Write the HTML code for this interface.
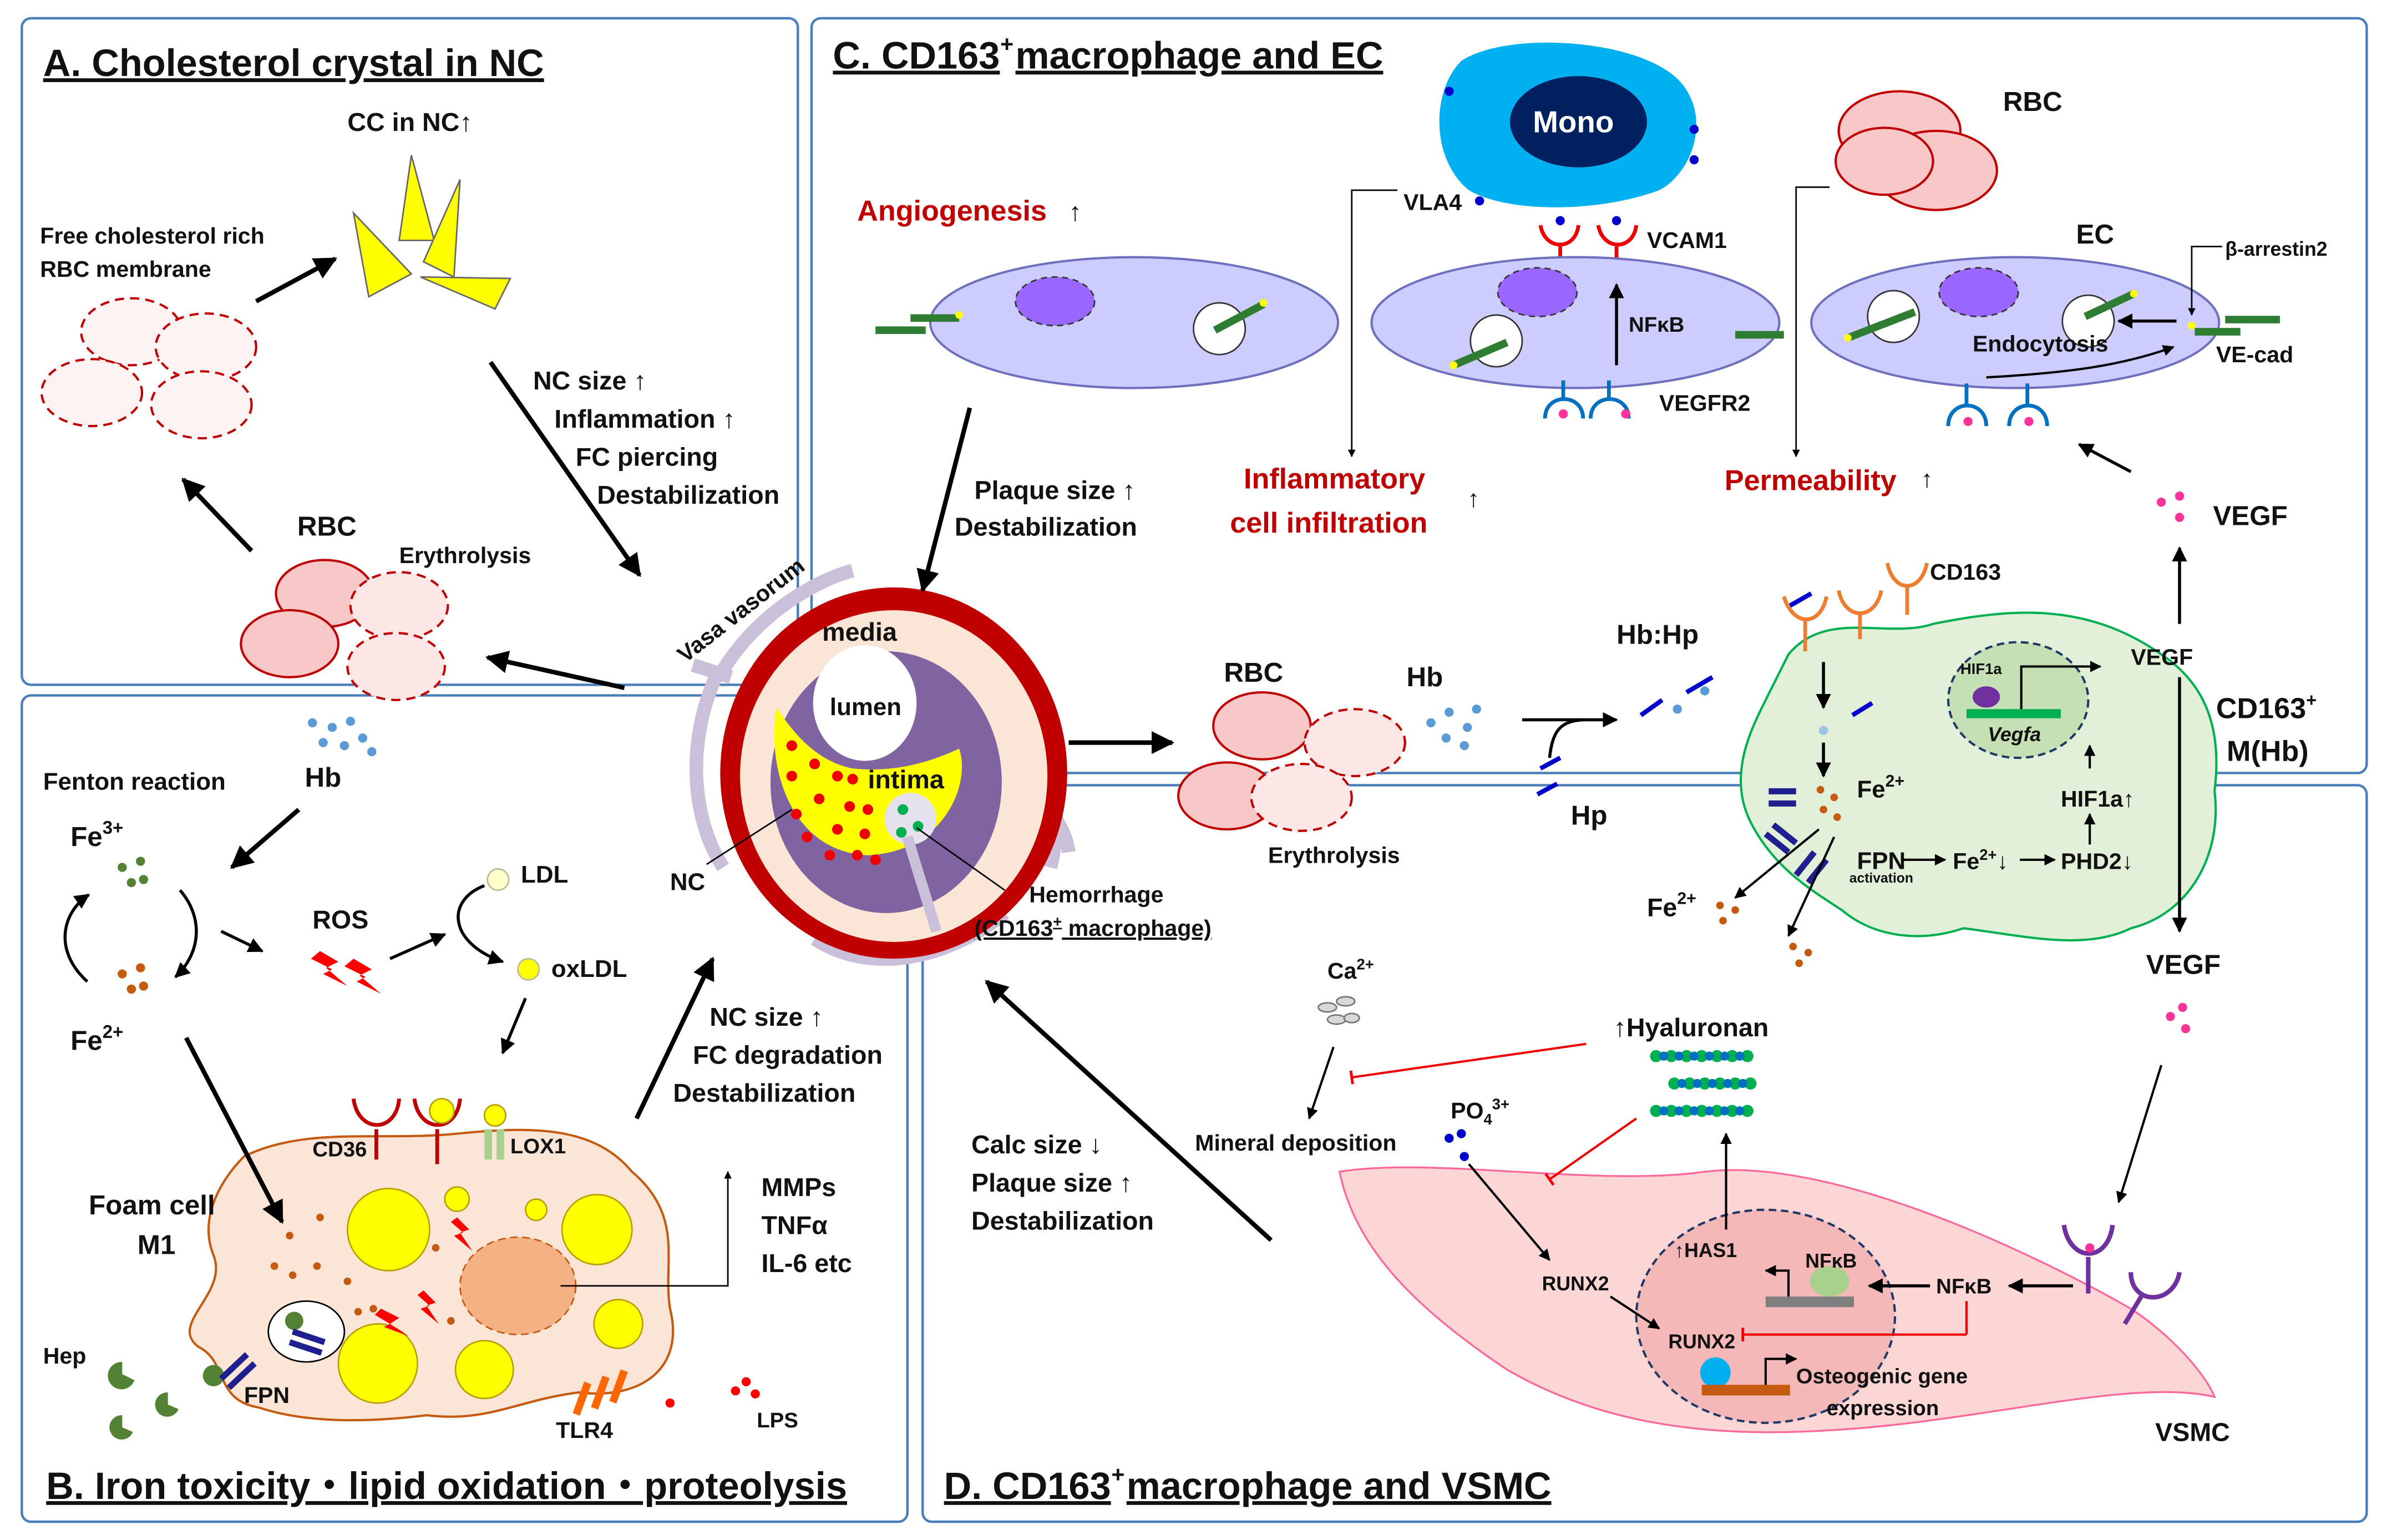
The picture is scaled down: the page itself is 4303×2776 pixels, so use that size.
<!DOCTYPE html>
<html><head><meta charset="utf-8"><style>
html,body{margin:0;padding:0;background:#fff}
svg{display:block}
text{font-family:"Liberation Sans",sans-serif;font-weight:bold;fill:#111}
</style></head><body>
<svg width="4303" height="2776" viewBox="0 0 1568 1012" xmlns="http://www.w3.org/2000/svg">
<defs>
<marker id="ar" viewBox="0 0 10 10" refX="9" refY="5" markerWidth="5" markerHeight="5" orient="auto"><path d="M0,0L10,5L0,10z" fill="#000"/></marker>
<marker id="tb" viewBox="0 0 10 10" refX="5" refY="5" markerWidth="6" markerHeight="6" orient="auto"><path d="M5,0L5,10" stroke="#e00" stroke-width="2"/></marker>
</defs>
<g fill="none" stroke="#4a7ebb" stroke-width="1.6">
<rect x="14" y="12" width="510" height="438" rx="6"/>
<rect x="14" y="457" width="582" height="543" rx="6"/>
<rect x="533" y="12" width="1022" height="496" rx="6"/>
<rect x="606" y="516" width="949" height="484" rx="6"/>
</g>
<g font-size="25">
<text x="28" y="50" text-decoration="underline">A. Cholesterol crystal in NC</text>
<text x="547" y="45" text-decoration="underline">C. CD163</text><text x="657" y="34" font-size="15">+</text><text x="667" y="45" text-decoration="underline"> macrophage and EC</text>
<text x="30" y="985" text-decoration="underline">B. Iron toxicity・lipid oxidation・proteolysis</text>
<text x="620" y="985" text-decoration="underline">D. CD163</text><text x="730" y="974" font-size="15">+</text><text x="740" y="985" text-decoration="underline"> macrophage and VSMC</text>
</g>
<!-- Panel A -->
<text x="228" y="86" font-size="17">CC in NC↑</text>
<g fill="#ffff00" stroke="#666" stroke-width="1">
<polygon points="270,102 262,158 285,158"/>
<polygon points="302,118 278,172 298,182"/>
<polygon points="232,140 242,195 270,180"/>
<polygon points="276,182 335,183 325,203"/>
</g>
<text x="26" y="160" font-size="15">Free cholesterol rich</text>
<text x="26" y="182" font-size="15">RBC membrane</text>
<line x1="168" y1="198" x2="220" y2="170" stroke="#000" stroke-width="3" marker-end="url(#ar)"/>
<g fill="#fdf3f3" stroke="#c00000" stroke-width="1.5" stroke-dasharray="6,4">
<ellipse cx="86" cy="218" rx="33" ry="22"/><ellipse cx="135" cy="228" rx="33" ry="22"/>
<ellipse cx="60" cy="258" rx="33" ry="22"/><ellipse cx="132" cy="266" rx="33" ry="22"/>
</g>
<line x1="322" y1="238" x2="420" y2="378" stroke="#000" stroke-width="3" marker-end="url(#ar)"/>
<g font-size="17"><text x="350" y="256">NC size ↑</text><text x="364" y="281">Inflammation ↑</text><text x="378" y="306">FC piercing</text><text x="392" y="331">Destabilization</text></g>
<line x1="165" y1="362" x2="120" y2="315" stroke="#000" stroke-width="3" marker-end="url(#ar)"/>
<text x="195" y="352" font-size="18">RBC</text>
<text x="262" y="370" font-size="15">Erythrolysis</text>
<ellipse cx="213" cy="390" rx="32" ry="22" fill="#f8c8c8" stroke="#c00000" stroke-width="1.5"/>
<ellipse cx="262" cy="398" rx="32" ry="22" fill="#fde6e6" stroke="#c00000" stroke-width="1.5" stroke-dasharray="6,4"/>
<ellipse cx="190" cy="423" rx="32" ry="22" fill="#f8c8c8" stroke="#c00000" stroke-width="1.5"/>
<ellipse cx="260" cy="438" rx="32" ry="22" fill="#fde6e6" stroke="#c00000" stroke-width="1.5" stroke-dasharray="6,4"/>
<line x1="410" y1="452" x2="320" y2="432" stroke="#000" stroke-width="3" marker-end="url(#ar)"/>
<!-- Panel B -->
<g fill="#5b9bd5"><circle cx="205" cy="475" r="3"/><circle cx="218" cy="478" r="3"/><circle cx="230" cy="474" r="3"/><circle cx="212" cy="488" r="3"/><circle cx="226" cy="490" r="3"/><circle cx="238" cy="485" r="3"/><circle cx="244" cy="494" r="3"/></g>
<text x="200" y="517" font-size="18">Hb</text>
<text x="28" y="519" font-size="16">Fenton reaction</text>
<line x1="196" y1="532" x2="152" y2="570" stroke="#000" stroke-width="3" marker-end="url(#ar)"/>
<text x="46" y="556" font-size="18">Fe<tspan font-size="12" dy="-8">3+</tspan></text>
<g fill="#548235"><circle cx="80" cy="570" r="3"/><circle cx="92" cy="566" r="3"/><circle cx="86" cy="580" r="3"/><circle cx="94" cy="578" r="3"/></g>
<path d="M57,645 C35,625 40,600 58,588" fill="none" stroke="#000" stroke-width="2" marker-end="url(#ar)"/>
<path d="M118,585 C135,605 130,628 115,642" fill="none" stroke="#000" stroke-width="2" marker-end="url(#ar)"/>
<g fill="#c55a11"><circle cx="80" cy="640" r="3"/><circle cx="92" cy="636" r="3"/><circle cx="86" cy="650" r="3"/><circle cx="94" cy="648" r="3"/></g>
<text x="46" y="690" font-size="18">Fe<tspan font-size="12" dy="-8">2+</tspan></text>
<line x1="145" y1="612" x2="172" y2="625" stroke="#000" stroke-width="2" marker-end="url(#ar)"/>
<text x="205" y="610" font-size="17">ROS</text>
<g fill="#ff0000"><polygon points="210,625 222,632 214,636 228,648 212,640 218,637 204,630"/><polygon points="232,630 244,637 236,641 250,653 234,645 240,642 226,635"/></g>
<line x1="256" y1="630" x2="292" y2="614" stroke="#000" stroke-width="2" marker-end="url(#ar)"/>
<circle cx="327" cy="578" r="7" fill="#ffffcc" stroke="#bb9" stroke-width="1"/>
<text x="342" y="580" font-size="16">LDL</text>
<path d="M318,582 C292,592 295,620 330,632" fill="none" stroke="#000" stroke-width="2" marker-end="url(#ar)"/>
<circle cx="347" cy="637" r="7" fill="#ffff00" stroke="#bb9" stroke-width="1"/>
<text x="362" y="642" font-size="16">oxLDL</text>
<line x1="345" y1="656" x2="330" y2="692" stroke="#000" stroke-width="2" marker-end="url(#ar)"/>
<path d="M160,760 C200,740 250,750 300,745 C350,740 390,740 415,770 C450,800 435,830 440,860 C450,900 420,920 380,915 C340,920 320,935 280,930 C240,935 200,935 170,925 C140,920 150,895 130,885 C110,870 150,850 140,825 C130,800 145,775 160,760Z" fill="#fbe5d6" stroke="#c55a11" stroke-width="1.5"/>
<line x1="122" y1="682" x2="185" y2="803" stroke="#000" stroke-width="3" marker-end="url(#ar)"/>
<text x="58" y="798" font-size="18">Foam cell</text>
<text x="90" y="824" font-size="18">M1</text>
<g fill="#ffff00" stroke="#b8a000" stroke-width="1"><circle cx="255" cy="808" r="27"/><circle cx="392" cy="808" r="23"/><circle cx="248" cy="896" r="26"/><circle cx="318" cy="900" r="19"/><circle cx="406" cy="870" r="16"/><circle cx="300" cy="788" r="8"/><circle cx="352" cy="795" r="7"/></g>
<ellipse cx="340" cy="845" rx="38" ry="32" fill="#f4b183" stroke="#c55a11" stroke-dasharray="5,3"/>
<ellipse cx="201" cy="875" rx="25" ry="20" fill="#fff" stroke="#000"/>
<circle cx="193" cy="868" r="6" fill="#548235"/>
<g stroke="#1f1f8f" stroke-width="4"><line x1="192" y1="875" x2="213" y2="882"/><line x1="190" y1="882" x2="211" y2="889"/></g>
<g fill="#c55a11"><circle cx="180" cy="832" r="2.5"/><circle cx="192" cy="838" r="2.5"/><circle cx="210" cy="800" r="2.5"/><circle cx="228" cy="842" r="2.5"/><circle cx="235" cy="862" r="2.5"/><circle cx="286" cy="820" r="2.5"/><circle cx="296" cy="868" r="2.5"/><circle cx="190" cy="812" r="2.5"/><circle cx="208" cy="832" r="2.5"/><circle cx="245" cy="860" r="2.5"/></g>
<g fill="#ff0000"><polygon points="300,800 308,808 302,810 310,822 298,812 304,810 296,803"/><polygon points="278,848 286,856 280,858 288,870 276,860 282,858 274,851"/><polygon points="250,860 262,866 256,870 268,878 252,872 256,870 246,864"/></g>
<g fill="none" stroke="#c00000" stroke-width="2.5"><path d="M232,722 C235,745 260,745 262,722"/><line x1="247" y1="742" x2="247" y2="762"/><path d="M272,722 C275,745 300,745 302,722"/><line x1="287" y1="742" x2="287" y2="765"/></g>
<circle cx="290" cy="730" r="8" fill="#ffff00" stroke="#b8a000"/>
<circle cx="325" cy="733" r="7" fill="#ffff00" stroke="#b8a000"/>
<rect x="318" y="742" width="5" height="20" fill="#a9d18e"/><rect x="326" y="742" width="5" height="20" fill="#a9d18e"/>
<text x="205" y="760" font-size="14">CD36</text>
<text x="335" y="758" font-size="14">LOX1</text>
<path d="M368,845 L478,845 L478,770" fill="none" stroke="#000" stroke-width="1" marker-end="url(#ar)"/>
<g font-size="17"><text x="500" y="786">MMPs</text><text x="500" y="811">TNFα</text><text x="500" y="836">IL-6 etc</text></g>
<line x1="418" y1="735" x2="468" y2="630" stroke="#000" stroke-width="3" marker-end="url(#ar)"/>
<g font-size="17"><text x="466" y="674">NC size ↑</text><text x="455" y="699">FC degradation</text><text x="442" y="724">Destabilization</text></g>
<text x="28" y="896" font-size="15">Hep</text>
<g fill="#548235"><path d="M80,895 a9,9 0 1,0 8,12 l-8,-4z"/><path d="M110,915 a8,8 0 1,0 7,11 l-7,-3z"/><path d="M80,930 a8,8 0 1,0 7,11 l-7,-3z"/><circle cx="140" cy="904" r="7"/></g>
<g stroke="#1f1f8f" stroke-width="4"><line x1="145" y1="906" x2="162" y2="890"/><line x1="150" y1="912" x2="167" y2="896"/></g>
<text x="160" y="922" font-size="15">FPN</text>
<g fill="#ff6600"><rect x="380" y="908" width="5" height="22" transform="rotate(20 382 918)"/><rect x="392" y="904" width="5" height="22" transform="rotate(20 394 914)"/><rect x="404" y="900" width="5" height="22" transform="rotate(20 406 910)"/></g>
<text x="365" y="945" font-size="15">TLR4</text>
<g fill="#ff0000"><circle cx="440" cy="922" r="3"/><circle cx="483" cy="914" r="3"/><circle cx="490" cy="908" r="3"/><circle cx="496" cy="916" r="3"/></g>
<text x="497" y="938" font-size="14">LPS</text>
<!-- artery -->
<g fill="none" stroke="#cbc0da" stroke-width="9">
<path d="M475,440 C500,400 540,380 560,375"/>
<path d="M470,445 C450,490 455,540 475,570"/>
<path d="M535,617 C570,640 620,632 660,600"/>
<path d="M664,455 C690,490 700,530 690,570"/>
<path d="M480,445 L455,437"/>
<path d="M676,520 C690,530 700,545 702,560"/>
</g>
<ellipse cx="587" cy="508" rx="114" ry="122" fill="#c00000"/>
<ellipse cx="587" cy="510" rx="101" ry="109" fill="#fbe5d6"/>
<ellipse cx="582" cy="514" rx="76" ry="86" fill="#8064a2"/>
<path d="M510,465 C520,480 535,500 560,505 C590,508 612,500 630,492 C638,515 620,560 570,562 C520,560 503,505 510,465Z" fill="#ffff00"/>
<ellipse cx="568" cy="462" rx="34" ry="38" fill="#fff"/>
<circle cx="598" cy="538" r="17" fill="#e6e1ee"/>
<path d="M596,550 C605,580 610,595 615,612" stroke="#cbc0da" stroke-width="7" fill="none"/>
<g fill="#00b050"><circle cx="593" cy="532" r="3.5"/><circle cx="603" cy="543" r="3.5"/><circle cx="592" cy="547" r="3.5"/></g>
<g fill="#e00"><circle cx="520" cy="490" r="3.5"/><circle cx="535" cy="502" r="3.5"/><circle cx="520" cy="510" r="3.5"/><circle cx="550" cy="510" r="3.5"/><circle cx="560" cy="512" r="3.5"/><circle cx="538" cy="525" r="3.5"/><circle cx="558" cy="530" r="3.5"/><circle cx="570" cy="532" r="3.5"/><circle cx="523" cy="535" r="3.5"/><circle cx="550" cy="545" r="3.5"/><circle cx="530" cy="550" r="3.5"/><circle cx="568" cy="548" r="3.5"/><circle cx="545" cy="562" r="3.5"/><circle cx="563" cy="562" r="3.5"/><circle cx="575" cy="565" r="3.5"/></g>
<text x="540" y="421" font-size="17">media</text>
<text x="545" y="470" font-size="16">lumen</text>
<text x="570" y="518" font-size="17">intima</text>
<text x="450" y="436" font-size="15" transform="rotate(-38 450 436)">Vasa vasorum</text>
<line x1="464" y1="568" x2="520" y2="532" stroke="#000" stroke-width="1"/>
<text x="440" y="585" font-size="16">NC</text>
<line x1="602" y1="544" x2="660" y2="585" stroke="#000" stroke-width="1"/>
<text x="676" y="593" font-size="15">Hemorrhage</text>
<text x="640" y="615" font-size="15" text-decoration="underline">(CD163<tspan font-size="10" dy="-6">+</tspan><tspan dy="6">  macrophage)</tspan></text>
<!-- Panel C -->
<path d="M960,40 C990,20 1080,25 1105,55 C1125,80 1110,115 1090,125 C1050,140 990,140 965,125 C940,105 940,60 960,40Z" fill="#00b0f0"/>
<ellipse cx="1037" cy="80" rx="45" ry="30" fill="#002060"/>
<text x="1007" y="87" font-size="20" style="fill:#fff">Mono</text>
<g fill="#0000cc"><circle cx="952" cy="60" r="3"/><circle cx="1113" cy="85" r="3"/><circle cx="1113" cy="105" r="3"/><circle cx="972" cy="132" r="3"/><circle cx="1025" cy="145" r="3"/><circle cx="1062" cy="145" r="3"/></g>
<text x="922" y="138" font-size="15">VLA4</text>
<g fill="none" stroke="#e00" stroke-width="2.5"><path d="M1012,148 C1015,165 1035,165 1037,148"/><line x1="1025" y1="162" x2="1025" y2="180"/><path d="M1050,148 C1053,165 1073,165 1075,148"/><line x1="1062" y1="162" x2="1062" y2="180"/></g>
<text x="1082" y="163" font-size="15">VCAM1</text>
<text x="563" y="145" font-size="19" style="fill:#c00000">Angiogenesis</text><text x="702" y="145" font-size="17">↑</text>
<g fill="#ccccff" stroke="#6f6fbf" stroke-width="1.5">
<ellipse cx="745" cy="212" rx="134" ry="43"/><ellipse cx="1035" cy="212" rx="134" ry="43"/><ellipse cx="1324" cy="212" rx="134" ry="43"/></g>
<g fill="#9966ff" stroke="#333" stroke-dasharray="4,3"><ellipse cx="693" cy="198" rx="26" ry="16"/><ellipse cx="1010" cy="192" rx="26" ry="16"/><ellipse cx="1300" cy="192" rx="26" ry="16"/></g>
<g fill="#fff" stroke="#333"><circle cx="801" cy="216" r="17"/><circle cx="983" cy="224" r="17"/><circle cx="1244" cy="208" r="17"/><circle cx="1372" cy="211" r="17"/></g>
<g stroke="#2e7d32" stroke-width="5"><line x1="575" y1="217" x2="608" y2="217"/><line x1="598" y1="209" x2="630" y2="209"/><line x1="798" y1="217" x2="830" y2="200"/><line x1="955" y1="240" x2="990" y2="225"/><line x1="1140" y1="220" x2="1172" y2="220"/><line x1="1214" y1="222" x2="1258" y2="205"/><line x1="1370" y1="208" x2="1402" y2="193"/><line x1="1442" y1="218" x2="1472" y2="218"/><line x1="1462" y1="210" x2="1498" y2="210"/></g>
<g fill="#ffff00"><circle cx="630" cy="207" r="2.5"/><circle cx="830" cy="199" r="2.5"/><circle cx="955" cy="240" r="2.5"/><circle cx="1214" cy="222" r="2.5"/><circle cx="1402" cy="193" r="2.5"/><circle cx="1440" cy="214" r="2.5"/></g>
<line x1="1062" y1="240" x2="1062" y2="187" stroke="#000" stroke-width="2" marker-end="url(#ar)"/>
<text x="1070" y="218" font-size="14">NFκB</text>
<g fill="none" stroke="#0070c0" stroke-width="2.5"><path d="M1015,275 C1015,258 1040,258 1040,275"/><line x1="1027" y1="262" x2="1027" y2="250"/><path d="M1045,275 C1045,258 1070,258 1070,275"/><line x1="1057" y1="262" x2="1057" y2="250"/>
<path d="M1280,280 C1280,262 1305,262 1305,280"/><line x1="1292" y1="266" x2="1292" y2="252"/><path d="M1320,280 C1320,262 1345,262 1345,280"/><line x1="1332" y1="266" x2="1332" y2="252"/></g>
<g fill="#ff3399"><circle cx="1027" cy="272" r="3"/><circle cx="1068" cy="272" r="3"/><circle cx="1293" cy="277" r="3"/><circle cx="1333" cy="277" r="3"/></g>
<text x="1090" y="270" font-size="15">VEGFR2</text>
<text x="1364" y="160" font-size="18">EC</text>
<text x="1462" y="168" font-size="13">β-arrestin2</text>
<path d="M1460,162 L1440,162 L1440,207" fill="none" stroke="#000" stroke-width="1" marker-end="url(#ar)"/>
<line x1="1430" y1="211" x2="1392" y2="211" stroke="#000" stroke-width="2" marker-end="url(#ar)"/>
<text x="1296" y="231" font-size="15">Endocytosis</text>
<path d="M1305,248 C1360,245 1395,240 1428,228" fill="none" stroke="#000" stroke-width="1.5" marker-end="url(#ar)"/>
<text x="1456" y="238" font-size="15">VE-cad</text>
<path d="M918,125 L888,125 L888,300" fill="none" stroke="#000" stroke-width="1" marker-end="url(#ar)"/>
<path d="M1202,123 L1180,123 L1180,300" fill="none" stroke="#000" stroke-width="1" marker-end="url(#ar)"/>
<text x="817" y="321" font-size="19" style="fill:#c00000">Inflammatory</text>
<text x="808" y="350" font-size="19" style="fill:#c00000">cell infiltration</text><text x="964" y="333" font-size="16">↑</text>
<text x="1133" y="322" font-size="19" style="fill:#c00000">Permeability</text><text x="1262" y="320" font-size="16">↑</text>
<g fill="#f8c8c8" stroke="#c00000" stroke-width="1.5"><ellipse cx="1248" cy="86" rx="40" ry="26"/><ellipse cx="1272" cy="112" rx="40" ry="26"/><ellipse cx="1238" cy="106" rx="32" ry="22"/></g>
<text x="1316" y="73" font-size="18">RBC</text>
<line x1="637" y1="268" x2="606" y2="388" stroke="#000" stroke-width="3" marker-end="url(#ar)"/>
<text x="640" y="328" font-size="17">Plaque size ↑</text>
<text x="627" y="352" font-size="17">Destabilization</text>
<line x1="702" y1="488" x2="770" y2="488" stroke="#000" stroke-width="3" marker-end="url(#ar)"/>
<text x="804" y="448" font-size="18">RBC</text>
<text x="924" y="451" font-size="18">Hb</text>
<ellipse cx="829" cy="477" rx="32" ry="22" fill="#f8c8c8" stroke="#c00000" stroke-width="1.5"/>
<ellipse cx="890" cy="488" rx="33" ry="22" fill="#fde6e6" stroke="#c00000" stroke-width="1.5" stroke-dasharray="6,4"/>
<ellipse cx="806" cy="523" rx="32" ry="22" fill="#f8c8c8" stroke="#c00000" stroke-width="1.5"/>
<ellipse cx="855" cy="524" rx="33" ry="22" fill="#fde6e6" stroke="#c00000" stroke-width="1.5" stroke-dasharray="6,4"/>
<text x="833" y="567" font-size="15">Erythrolysis</text>
<g fill="#5b9bd5"><circle cx="940" cy="475" r="3"/><circle cx="952" cy="468" r="3"/><circle cx="964" cy="478" r="3"/><circle cx="970" cy="466" r="3"/><circle cx="950" cy="485" r="3"/><circle cx="962" cy="490" r="3"/></g>
<path d="M1000,473 L1062,473" stroke="#000" stroke-width="2" marker-end="url(#ar)"/>
<path d="M1018,498 C1020,480 1025,474 1040,473" fill="none" stroke="#000" stroke-width="2"/>
<g stroke="#0000cc" stroke-width="3"><line x1="1012" y1="505" x2="1025" y2="498"/><line x1="1010" y1="522" x2="1023" y2="515"/><line x1="1078" y1="470" x2="1092" y2="460"/><line x1="1108" y1="455" x2="1125" y2="445"/></g>
<g fill="#5b9bd5"><circle cx="1102" cy="466" r="3"/><circle cx="1120" cy="454" r="3"/></g>
<text x="1062" y="423" font-size="18">Hb:Hp</text>
<text x="1032" y="542" font-size="18">Hp</text>
<path d="M1175,430 C1200,400 1240,420 1270,410 C1320,400 1370,395 1420,430 C1450,450 1460,480 1455,520 C1460,560 1440,600 1400,610 C1370,625 1330,615 1290,610 C1260,620 1230,615 1210,598 C1190,585 1165,570 1150,540 C1135,510 1150,480 1160,460 C1165,450 1170,440 1175,430Z" fill="#e2f0d9" stroke="#00b050" stroke-width="1.5"/>
<ellipse cx="1326" cy="460" rx="46" ry="38" fill="#c5e0b4" stroke="#203864" stroke-width="1.5" stroke-dasharray="5,3"/>
<text x="1288" y="443" font-size="10">HIF1a</text>
<ellipse cx="1305" cy="458" rx="9" ry="7" fill="#7030a0"/>
<rect x="1292" y="466" width="62" height="6" fill="#00b050"/>
<text x="1306" y="487" font-size="13" font-style="italic">Vegfa</text>
<path d="M1328,466 L1328,438 L1380,438" fill="none" stroke="#000" stroke-width="1.5" marker-end="url(#ar)"/>
<text x="1400" y="437" font-size="15">VEGF</text>
<text x="1456" y="472" font-size="19">CD163<tspan font-size="12" dy="-8">+</tspan></text>
<text x="1463" y="500" font-size="19">M(Hb)</text>
<g fill="none" stroke="#ed7d31" stroke-width="2.5"><path d="M1172,392 C1178,412 1196,412 1200,392"/><line x1="1186" y1="408" x2="1186" y2="428"/><path d="M1208,388 C1212,408 1232,408 1236,388"/><line x1="1222" y1="404" x2="1222" y2="420"/><path d="M1240,370 C1244,390 1262,390 1266,370"/><line x1="1253" y1="386" x2="1253" y2="404"/></g>
<text x="1268" y="381" font-size="15">CD163</text>
<g stroke="#0000cc" stroke-width="3"><line x1="1176" y1="398" x2="1190" y2="390"/><line x1="1217" y1="470" x2="1230" y2="462"/></g>
<line x1="1198" y1="435" x2="1198" y2="465" stroke="#000" stroke-width="2" marker-end="url(#ar)"/>
<circle cx="1198" cy="480" r="3" fill="#9dc3e6"/>
<line x1="1198" y1="488" x2="1198" y2="510" stroke="#000" stroke-width="2" marker-end="url(#ar)"/>
<g fill="#c55a11"><circle cx="1196" cy="519" r="2.5"/><circle cx="1205" cy="524" r="2.5"/><circle cx="1198" cy="532" r="2.5"/><circle cx="1207" cy="537" r="2.5"/></g>
<text x="1220" y="524" font-size="16">Fe<tspan font-size="11" dy="-7">2+</tspan></text>
<g stroke="#1f1f8f" stroke-width="4"><line x1="1162" y1="520" x2="1180" y2="520"/><line x1="1162" y1="528" x2="1180" y2="528"/><line x1="1160" y1="548" x2="1175" y2="560"/><line x1="1165" y1="542" x2="1180" y2="554"/><line x1="1180" y1="575" x2="1192" y2="560"/><line x1="1188" y1="580" x2="1200" y2="565"/></g>
<line x1="1195" y1="545" x2="1140" y2="590" stroke="#000" stroke-width="1.5" marker-end="url(#ar)"/>
<line x1="1205" y1="550" x2="1175" y2="615" stroke="#000" stroke-width="1.5" marker-end="url(#ar)"/>
<text x="1220" y="571" font-size="16">FPN</text>
<text x="1215" y="580" font-size="9">activation</text>
<line x1="1250" y1="565" x2="1278" y2="565" stroke="#000" stroke-width="1.5" marker-end="url(#ar)"/>
<text x="1283" y="571" font-size="15">Fe<tspan font-size="10" dy="-6">2+</tspan><tspan dy="6">↓</tspan></text>
<line x1="1327" y1="565" x2="1350" y2="565" stroke="#000" stroke-width="1.5" marker-end="url(#ar)"/>
<text x="1354" y="571" font-size="15">PHD2↓</text>
<line x1="1373" y1="555" x2="1373" y2="535" stroke="#000" stroke-width="1.5" marker-end="url(#ar)"/>
<text x="1354" y="530" font-size="15">HIF1a↑</text>
<line x1="1373" y1="505" x2="1373" y2="490" stroke="#000" stroke-width="1.5" marker-end="url(#ar)"/>
<text x="1082" y="602" font-size="17">Fe<tspan font-size="11" dy="-8">2+</tspan></text>
<g fill="#c55a11"><circle cx="1130" cy="595" r="2.5"/><circle cx="1140" cy="598" r="2.5"/><circle cx="1132" cy="605" r="2.5"/><circle cx="1178" cy="622" r="2.5"/><circle cx="1188" cy="626" r="2.5"/><circle cx="1182" cy="633" r="2.5"/></g>
<line x1="1432" y1="410" x2="1432" y2="360" stroke="#000" stroke-width="2" marker-end="url(#ar)"/>
<line x1="1432" y1="445" x2="1432" y2="612" stroke="#000" stroke-width="2" marker-end="url(#ar)"/>
<line x1="1400" y1="310" x2="1366" y2="292" stroke="#000" stroke-width="2" marker-end="url(#ar)"/>
<g fill="#ff3399"><circle cx="1420" cy="330" r="3"/><circle cx="1432" cy="326" r="3"/><circle cx="1432" cy="340" r="3"/><circle cx="1426" cy="668" r="3"/><circle cx="1434" cy="662" r="3"/><circle cx="1436" cy="676" r="3"/></g>
<text x="1454" y="345" font-size="18">VEGF</text>
<text x="1410" y="640" font-size="18">VEGF</text>
<!-- Panel D -->
<line x1="1420" y1="700" x2="1392" y2="790" stroke="#000" stroke-width="1.5" marker-end="url(#ar)"/>
<path d="M880,770 C940,760 1050,780 1120,770 C1200,760 1330,820 1400,860 C1430,880 1450,905 1455,918 C1400,905 1300,935 1200,940 C1120,945 1050,935 990,900 C930,860 890,820 880,770Z" fill="#fcd5d5" stroke="#ff6699" stroke-width="1.2"/>
<ellipse cx="1160" cy="865" rx="85" ry="70" fill="#f4b8b8" stroke="#203864" stroke-width="1.5" stroke-dasharray="5,3"/>
<g fill="none" stroke="#7030a0" stroke-width="3"><path d="M1356,805 C1360,830 1385,830 1388,805"/><line x1="1372" y1="826" x2="1372" y2="850"/><path d="M1400,836 C1400,858 1428,858 1432,836"/><line x1="1408" y1="850" x2="1396" y2="870"/></g>
<circle cx="1373" cy="820" r="3" fill="#ff3399"/>
<line x1="1362" y1="845" x2="1320" y2="845" stroke="#000" stroke-width="2" marker-end="url(#ar)"/>
<text x="1272" y="850" font-size="14">NFκB</text>
<line x1="1268" y1="845" x2="1228" y2="845" stroke="#000" stroke-width="2" marker-end="url(#ar)"/>
<ellipse cx="1202" cy="842" rx="13" ry="10" fill="#a9d18e"/>
<rect x="1160" y="852" width="58" height="7" fill="#7f7f7f"/>
<text x="1186" y="833" font-size="13">NFκB</text>
<path d="M1175,852 L1175,835 L1160,835" fill="none" stroke="#000" stroke-width="1.5" marker-end="url(#ar)"/>
<text x="1100" y="826" font-size="13">↑HAS1</text>
<line x1="1134" y1="808" x2="1134" y2="745" stroke="#000" stroke-width="1.5" marker-end="url(#ar)"/>
<line x1="1292" y1="855" x2="1292" y2="877" stroke="#e00" stroke-width="1.5"/>
<line x1="1292" y1="877" x2="1145" y2="877" stroke="#e00" stroke-width="1.5" marker-end="url(#tb)"/>
<text x="1096" y="886" font-size="13">RUNX2</text>
<circle cx="1127" cy="902" r="10" fill="#00b0f0"/>
<rect x="1118" y="910" width="58" height="7" fill="#c55a11"/>
<path d="M1160,910 L1160,893 L1180,893" fill="none" stroke="#000" stroke-width="1.5" marker-end="url(#ar)"/>
<text x="1180" y="909" font-size="14">Osteogenic gene</text>
<text x="1200" y="930" font-size="14">expression</text>
<text x="1416" y="947" font-size="17">VSMC</text>
<g fill="#00b050"><circle cx="1088" cy="694" r="4"/><circle cx="1098" cy="694" r="4"/><circle cx="1108" cy="694" r="4"/><circle cx="1118" cy="694" r="4"/><circle cx="1128" cy="694" r="4"/><circle cx="1138" cy="694" r="4"/><circle cx="1148" cy="694" r="4"/></g>
<g fill="#0070c0"><circle cx="1093" cy="694" r="3"/><circle cx="1103" cy="694" r="3"/><circle cx="1113" cy="694" r="3"/><circle cx="1123" cy="694" r="3"/><circle cx="1133" cy="694" r="3"/><circle cx="1143" cy="694" r="3"/></g>
<g fill="#00b050"><circle cx="1100" cy="712" r="4"/><circle cx="1110" cy="712" r="4"/><circle cx="1120" cy="712" r="4"/><circle cx="1130" cy="712" r="4"/><circle cx="1140" cy="712" r="4"/><circle cx="1150" cy="712" r="4"/><circle cx="1088" cy="730" r="4"/><circle cx="1098" cy="730" r="4"/><circle cx="1108" cy="730" r="4"/><circle cx="1118" cy="730" r="4"/><circle cx="1128" cy="730" r="4"/><circle cx="1138" cy="730" r="4"/><circle cx="1148" cy="730" r="4"/></g>
<g fill="#0070c0"><circle cx="1105" cy="712" r="3"/><circle cx="1115" cy="712" r="3"/><circle cx="1125" cy="712" r="3"/><circle cx="1135" cy="712" r="3"/><circle cx="1145" cy="712" r="3"/><circle cx="1093" cy="730" r="3"/><circle cx="1103" cy="730" r="3"/><circle cx="1113" cy="730" r="3"/><circle cx="1123" cy="730" r="3"/><circle cx="1133" cy="730" r="3"/><circle cx="1143" cy="730" r="3"/></g>
<text x="1060" y="681" font-size="17">↑Hyaluronan</text>
<line x1="1042" y1="686" x2="888" y2="708" stroke="#e00" stroke-width="1.5" marker-end="url(#tb)"/>
<line x1="1075" y1="735" x2="1018" y2="775" stroke="#e00" stroke-width="1.5" marker-end="url(#tb)"/>
<text x="872" y="643" font-size="15">Ca<tspan font-size="10" dy="-6">2+</tspan></text>
<g fill="#d9d9d9" stroke="#777"><ellipse cx="872" cy="662" rx="6" ry="3"/><ellipse cx="884" cy="658" rx="6" ry="3"/><ellipse cx="878" cy="670" rx="6" ry="3"/><ellipse cx="888" cy="669" rx="5" ry="3"/></g>
<line x1="876" y1="688" x2="860" y2="735" stroke="#000" stroke-width="1.5" marker-end="url(#ar)"/>
<text x="785" y="756" font-size="15">Mineral deposition</text>
<text x="953" y="735" font-size="15">PO<tspan font-size="10" dy="4">4</tspan><tspan font-size="10" dy="-10">3+</tspan></text>
<g fill="#0000cc"><circle cx="952" cy="748" r="3"/><circle cx="960" cy="745" r="3"/><circle cx="962" cy="760" r="3"/></g>
<line x1="965" y1="765" x2="1018" y2="828" stroke="#000" stroke-width="1.5" marker-end="url(#ar)"/>
<text x="1013" y="848" font-size="13">RUNX2</text>
<line x1="1058" y1="852" x2="1090" y2="873" stroke="#000" stroke-width="1.5" marker-end="url(#ar)"/>
<line x1="835" y1="815" x2="648" y2="645" stroke="#000" stroke-width="3" marker-end="url(#ar)"/>
<g font-size="17"><text x="638" y="758">Calc size ↓</text><text x="638" y="783">Plaque size ↑</text><text x="638" y="808">Destabilization</text></g>
</svg>
</body></html>
